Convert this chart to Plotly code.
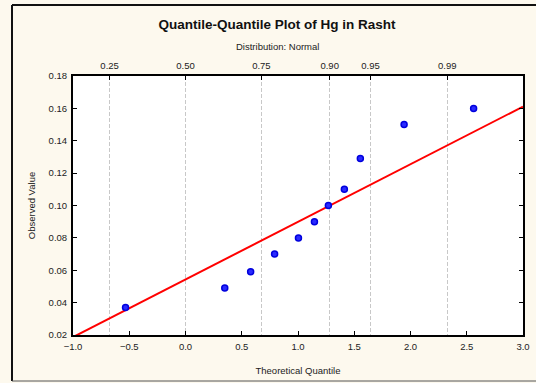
import plotly.graph_objects as go

# Data
theoretical_q = [-0.533, 0.349, 0.579, 0.792, 1.004, 1.146, 1.27, 1.412, 1.554, 1.943, 2.561]
observed = [0.037, 0.049, 0.059, 0.070, 0.080, 0.090, 0.100, 0.110, 0.129, 0.150, 0.160]
line_intercept = 0.0543
line_slope = 0.0356
line_x = [-1.0, 3.0]
prob_labels = ["0.25", "0.50", "0.75", "0.90", "0.95", "0.99"]
prob_quantiles = [-0.6745, 0.0, 0.6745, 1.2816, 1.6449, 2.3263]

FONT = "Liberation Sans, Arial, sans-serif"
fig = go.Figure()

fig.add_trace(go.Scatter(
    x=line_x, y=[line_intercept + line_slope * v for v in line_x],
    mode="lines", line=dict(color="#ff0000", width=2), showlegend=False, hoverinfo="skip"))

fig.add_trace(go.Scatter(
    x=theoretical_q, y=observed, mode="markers",
    marker=dict(size=6, color="#2a2aff", line=dict(color="#0000dd", width=1.5)),
    showlegend=False))

# invisible trace on top axis
fig.add_trace(go.Scatter(x=[prob_quantiles[0]], y=[None], xaxis="x2", showlegend=False, hoverinfo="skip"))

fig.update_layout(
    width=536, height=383,
    margin=dict(l=73, r=13, t=76, b=48, autoexpand=False),
    paper_bgcolor="#fdf9ee", plot_bgcolor="#ffffff",
    font=dict(family=FONT, size=9.5, color="#222222"),
    title=dict(text="<b>Quantile-Quantile Plot of Hg in Rasht</b>",
               x=277 / 536, xanchor="center", y=1 - 24 / 383, yanchor="middle",
               font=dict(size=13.5, color="#111111", family=FONT)),
    xaxis=dict(range=[-1, 3], dtick=0.5, tick0=-1, tickformat=".1f", automargin=False,
               showgrid=False, zeroline=False, showline=True, linecolor="#000000", linewidth=2,
               mirror=True, ticks="inside", ticklen=4, tickcolor="#000000", ticklabelstandoff=2,
               title=dict(text="Theoretical Quantile", standoff=16, font=dict(size=9.5))),
    xaxis2=dict(range=[-1, 3], overlaying="x", side="top", tickmode="array", automargin=False,
                tickvals=prob_quantiles, ticktext=prob_labels, ticklabelstandoff=4,
                showgrid=True, gridcolor="#c8c8c8", griddash="4px,2px", gridwidth=1,
                zeroline=False, showline=False, ticks="inside", ticklen=4, tickcolor="#000000"),
    yaxis=dict(range=[0.02, 0.18], dtick=0.02, tick0=0.02, tickformat=".2f", automargin=False,
               showgrid=False, zeroline=False, showline=True, linecolor="#000000", linewidth=2,
               mirror="ticks", ticks="inside", ticklen=4, tickcolor="#000000", ticklabelstandoff=2,
               title=dict(text="Observed Value", standoff=11, font=dict(size=9.5))),
    annotations=[dict(text="Distribution: Normal", xref="paper", yref="paper",
                      x=(277 - 73) / 450, y=1 + 30 / 259, xanchor="center", yanchor="middle",
                      showarrow=False, font=dict(size=9.5, color="#222222"))],
    shapes=[
        dict(type="line", xref="paper", yref="paper", x0=(12 - 73) / 450, x1=(540 - 73) / 450,
             y0=1 + 71 / 259, y1=1 + 71 / 259, line=dict(color="#111111", width=2)),
        dict(type="line", xref="paper", yref="paper", x0=(12 - 73) / 450, x1=(12 - 73) / 450,
             y0=1 + 71 / 259, y1=-46 / 259, line=dict(color="#111111", width=2)),
        dict(type="line", xref="paper", yref="paper", x0=(12 - 73) / 450, x1=(540 - 73) / 450,
             y0=-46 / 259, y1=-46 / 259, line=dict(color="#555555", width=1)),
    ],
)

fig.write_html("out.html", config={"displayModeBar": False},
               post_script="document.body.style.margin='0';document.body.style.background='#fdf9ee';")
